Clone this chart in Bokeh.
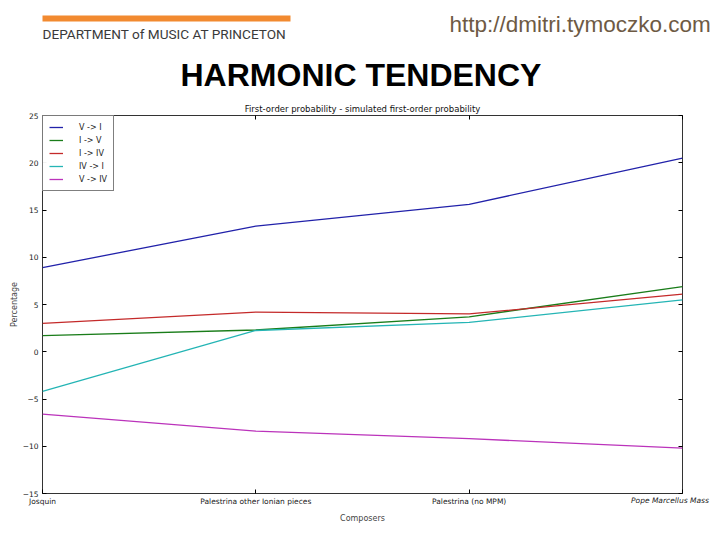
from bokeh.plotting import figure
from bokeh.models import Range1d, LinearAxis, FixedTicker, Legend, LegendItem, Label
from bokeh.embed import file_html
from bokeh.resources import INLINE

# ---------------- data ----------------
categories = ["Josquin", "Palestrina other Ionian pieces", "Palestrina (no MPM)", "Pope Marcellus Mass"]
x_pos = [0, 1, 2, 3]
series_names = ["V -> I", "I -> V", "I -> IV", "IV -> I", "V -> IV"]
v_to_i = [8.9, 13.3, 15.6, 20.5]
i_to_v = [1.7, 2.3, 3.7, 6.9]
i_to_iv = [3.0, 4.2, 4.0, 6.1]
iv_to_i = [-4.2, 2.25, 3.1, 5.5]
v_to_iv = [-6.6, -8.4, -9.2, -10.2]
y_ticks = [-15, -10, -5, 0, 5, 10, 15, 20, 25]

series_values = [v_to_i, i_to_v, i_to_iv, iv_to_i, v_to_iv]
series_colors = ["#2222aa", "#1a7d1a", "#c42a2a", "#25b5b5", "#bb33bb"]

TICK_FONT = "DejaVu Sans"

p = figure(width=712, height=532, x_range=Range1d(0, 3), y_range=Range1d(-15, 25),
           toolbar_location=None, output_backend="svg",
           min_border_left=42, min_border_right=30, min_border_top=115, min_border_bottom=39)
p.grid.visible = False
p.outline_line_color = "#333333"
p.outline_line_width = 1

yax = p.left[0]
xax = p.below[0]

# inward ticks on the top edge (no labels) - innermost top element
tax = LinearAxis(ticker=FixedTicker(ticks=x_pos, minor_ticks=[]), major_label_text_color=None,
                 major_label_standoff=0, major_tick_in=4, major_tick_out=0,
                 minor_tick_in=0, minor_tick_out=0, minor_tick_line_color=None,
                 axis_line_color=None)
p.add_layout(tax, "above")

# ---------------- slide header (labels in the top panel, canvas pixels) ----------------
def head(x, y, text, place="above", **kw):
    p.add_layout(Label(x=x, y=y, x_units="canvas", y_units="canvas", text=text,
                       text_baseline="middle", **kw), place)

head(362, 108, "First-order probability - simulated first-order probability",
     text_font=TICK_FONT, text_font_size="8.5px", text_color="#111111", text_align="center",
     padding=5)
head(180, 74, "HARMONIC TENDENCY", text_font="Liberation Sans", text_font_style="bold",
     text_font_size="32px", text_color="#000000")
head(42, 33.6, "DEPARTMENT of MUSIC AT PRINCETON", text_font="Roboto",
     text_font_size="13.6px", text_color="#3a3a3a")
head(449, 24, "http://dmitri.tymoczko.com", text_font="Liberation Sans", text_font_size="22.5px",
     text_color="#6e5a44")

p.extra_x_ranges = {"page": Range1d(42, 682), "lbl": Range1d(0, 3.06)}
bar_axis = LinearAxis(x_range_name="page", ticker=FixedTicker(ticks=[], minor_ticks=[]), bounds=(42, 290),
                      axis_line_color="#f28a30", axis_line_width=6, axis_line_cap="butt",
                      major_tick_line_color=None, minor_tick_line_color=None,
                      major_tick_out=0, minor_tick_out=0, major_label_text_color=None)
p.add_layout(bar_axis, "above")

# ---------------- chart ----------------
renderers = []
for vals, col in zip(series_values, series_colors):
    r = p.line(x_pos, vals, line_color=col, line_width=1.3)
    renderers.append(r)

legend = Legend(items=[LegendItem(label=n, renderers=[r]) for n, r in zip(series_names, renderers)],
                location="top_left")
legend.border_line_color = "#000000"
legend.border_line_width = 1
legend.label_text_font = TICK_FONT
legend.label_text_font_size = "8px"
legend.label_text_color = "#222222"
legend.glyph_width = 14
legend.glyph_height = 10
legend.label_height = 10
legend.spacing = 3
legend.padding = 6
legend.margin = 0
legend.label_standoff = 16
p.add_layout(legend)

# y axis
yax.ticker = FixedTicker(ticks=y_ticks)
yax.major_label_overrides = {t: (str(t).replace("-", "\u2212")) for t in y_ticks}
yax.major_tick_in = 4
yax.major_tick_out = 0
yax.minor_tick_line_color = None
yax.axis_line_color = None
yax.major_label_text_font = TICK_FONT
yax.major_label_text_font_size = "7.5px"
yax.major_label_text_color = "#222222"
yax.major_label_standoff = 4
yax.axis_label = "Percentage"
yax.axis_label_text_font = TICK_FONT
yax.axis_label_text_font_size = "8px"
yax.axis_label_text_font_style = "normal"
yax.axis_label_standoff = 1

# x axis (first three categories)
xax.ticker = FixedTicker(ticks=x_pos)
xax.major_label_overrides = {x: (c if i < len(categories) - 1 else " ") for i, (x, c) in enumerate(zip(x_pos, categories))}
xax.major_tick_in = 4
xax.major_tick_out = 0
xax.minor_tick_line_color = None
xax.axis_line_color = None
xax.major_label_text_font = TICK_FONT
xax.major_label_text_font_size = "7.5px"
xax.major_label_text_color = "#222222"
xax.major_label_standoff = 3

# outer bottom axis: italic last category + axis title
xax2 = LinearAxis(x_range_name="lbl", ticker=FixedTicker(ticks=[x_pos[-1]]),
                  major_label_overrides={x_pos[-1]: categories[-1]},
                  major_label_text_font=TICK_FONT, major_label_text_font_size="7.5px",
                  major_label_text_font_style="italic", major_label_text_color="#222222",
                  major_label_standoff=-19, major_tick_line_color=None, minor_tick_line_color=None,
                  axis_line_color=None, axis_label="Composers", axis_label_text_font=TICK_FONT,
                  axis_label_text_font_size="8px", axis_label_text_font_style="normal",
                  axis_label_standoff=6)
p.add_layout(xax2, "below")

# opposite-side inward ticks (no labels)
rax = LinearAxis(ticker=FixedTicker(ticks=y_ticks), major_label_text_color=None,
                 major_label_standoff=0, major_tick_in=4, major_tick_out=0,
                 minor_tick_line_color=None, axis_line_color=None)
p.add_layout(rax, "right")

open("out.html", "w").write(file_html(p, INLINE))
